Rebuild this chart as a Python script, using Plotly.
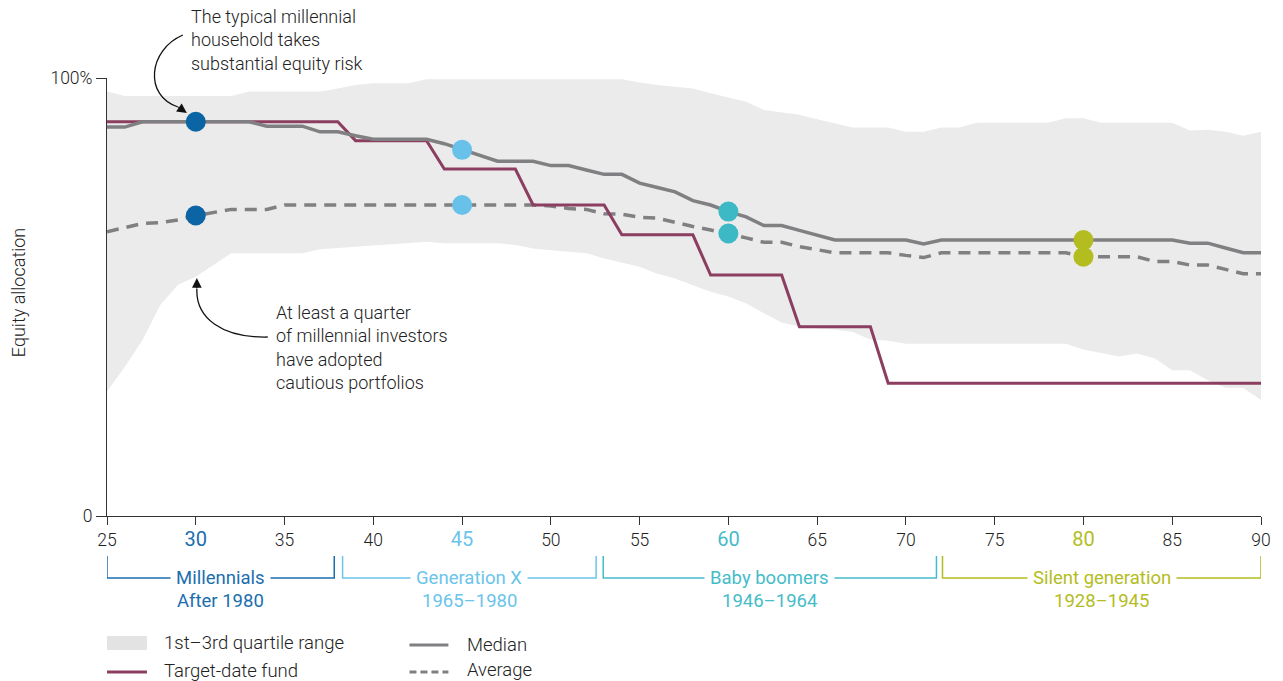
import plotly.graph_objects as go

# ---------------- data ----------------
ages = list(range(25, 91))

q3 = [96.9, 95.9, 95.9, 95.9, 95.9, 95.9, 95.9, 95.9, 96.9, 96.9, 96.9, 96.9, 96.9, 97.6, 98.4,
      98.8, 98.8, 98.8, 99.7,
      99.7, 99.7, 99.7, 99.7, 99.7, 99.7, 99.7, 99.7, 99.7, 99.7, 99.7,
      99.0, 98.4, 98.0, 97.6, 96.5, 95.5, 94.6, 92.7, 92.2, 91.6, 90.6, 89.7, 88.7, 88.7, 88.7,
      87.7, 87.7, 88.7, 88.7, 89.8, 89.8, 89.8, 89.8, 89.8, 90.8, 90.8, 89.8, 89.8, 89.8, 89.8,
      89.8, 88.0, 88.2, 87.7, 86.8, 87.7]

q1 = [28.4, 34.0, 40.2, 48.2, 52.8, 54.6, 57.3, 60.0, 60.0, 60.0, 60.0, 60.0, 60.9, 61.2, 61.5,
      61.8, 62.0, 62.4, 62.6, 62.3, 62.3, 62.3, 62.3, 61.9, 61.1, 60.7, 60.4, 60.0, 58.8, 57.8,
      56.9, 55.3, 54.2, 52.7, 51.2, 50.1, 48.5, 46.3, 44.2, 43.2, 42.8, 42.6, 42.0, 40.3, 40.0,
      39.3, 39.3, 39.3, 39.3, 39.3, 39.3, 39.3, 39.3, 39.3, 39.3,
      38.0, 37.2, 36.4, 37.1, 36.0, 33.3, 33.3, 31.0, 29.3, 29.2, 26.5]

median = [88.8, 88.8, 90, 90, 90, 90, 90, 90, 90, 89, 89, 89, 87.7, 87.7, 86.8,
          86, 86, 86, 86, 85, 83.6, 82.2, 81, 81, 81, 80, 80, 79, 78, 78,
          76, 75, 74, 72, 71, 69.5, 68.3, 66.3, 66.3, 65.2, 64.1, 63, 63, 63, 63,
          63, 62.1,
          63, 63, 63, 63, 63, 63, 63, 63, 63, 63, 63, 63, 63, 63,
          62.3, 62.3, 61.2, 60.1, 60.1]

average = [64.9, 65.8, 66.8, 67.0, 67.6, 68.6, 69.4, 70, 70, 70, 71,
           71, 71, 71, 71, 71, 71, 71, 71, 71, 71, 71, 71, 71, 71,
           70.8, 70.2, 70, 69, 68.9, 68.2, 68, 67, 66.1, 65.3, 64.5, 63.5, 62.5, 62.5, 61.5,
           60.8, 60.1, 60.1, 60.1, 60.1, 59.5, 59.0,
           60.1, 60.1, 60.1, 60.1, 60.1, 60.1, 60.1, 60.1,
           59.2, 59.2, 59.2, 59.2, 58.1, 58.1, 57.3, 57.3, 56.3, 55.3, 55.3]

tdf = ([90.0] * 14 + [85.7] * 5 + [79.2] * 5 + [71.0] * 5 + [64.2] * 5 +
       [55.0] * 5 + [43.2] * 5 + [30.3] * 22)

highlight_ages = [30, 45, 60, 80]
highlight_colors = ["#0B64A3", "#67C1E9", "#3DB8C5", "#B3BD1F"]
tick_colors = {30: "#1B6EAE", 45: "#6BC4EA", 60: "#45BCC8", 80: "#B3BD22"}

generations = ["Millennials", "Generation X", "Baby boomers", "Silent generation"]
gen_years = ["After 1980", "1965\u20131980", "1946\u20131964", "1928\u20131945"]
gen_start = [25, 38.27, 52.95, 72.06]
gen_end = [37.8, 52.55, 71.72, 90]
gen_colors = ["#1B6EAE", "#6BC4EA", "#45BCC8", "#B3BD22"]

xticks = list(range(25, 91, 5))
yticks = [0, 100]
yticktext = ["0", "100%"]

# ---------------- styles ----------------
FONT = "Roboto"
TXT = "#222222"
BAND = "#EBEBEB"
GREY = "#808083"
PURPLE = "#8B3E60"
LIGHT = 300

W, H = 1283, 681
ML, MR, MT, MB = 107, 20, 78, 165
PW, PH = W - ML - MR, H - MT - MB


def px(X):
    return (X - ML) / PW


def py(Y):
    return (H - MB - Y) / PH


fig = go.Figure()

# quartile band
fig.add_trace(go.Scatter(x=ages, y=q3, mode="lines", line=dict(width=0, color=BAND),
                         hoverinfo="skip", showlegend=False))
fig.add_trace(go.Scatter(x=ages, y=q1, mode="lines", line=dict(width=0, color=BAND),
                         fill="tonexty", fillcolor=BAND, hoverinfo="skip", showlegend=False))

# lines
fig.add_trace(go.Scatter(x=ages, y=average, mode="lines",
                         line=dict(color=GREY, width=3.5, dash="12px,8px"), showlegend=False))
fig.add_trace(go.Scatter(x=ages, y=tdf, mode="lines",
                         line=dict(color=PURPLE, width=3), showlegend=False))
fig.add_trace(go.Scatter(x=ages, y=median, mode="lines",
                         line=dict(color=GREY, width=3.5), showlegend=False))

# highlight dots
for a, c in zip(highlight_ages, highlight_colors):
    i = ages.index(a)
    fig.add_trace(go.Scatter(x=[a, a], y=[median[i], average[i]], mode="markers",
                             marker=dict(size=20, color=c, line=dict(width=0)),
                             showlegend=False))

ticktext = []
for t in xticks:
    if t in tick_colors:
        ticktext.append(f'<span style="color:{tick_colors[t]};font-size:20px;font-weight:400">{t}</span>')
    else:
        ticktext.append(str(t))

shapes = []
annotations = []

# generation brackets
yb_top, yb_line = py(556), py(578)
for name, yrs, s, e, c in zip(generations, gen_years, gen_start, gen_end, gen_colors):
    shapes.append(dict(type="path", xref="x", yref="paper",
                       path=f"M {s},{yb_top} L {s},{yb_line} L {e},{yb_line} L {e},{yb_top}",
                       line=dict(color=c, width=1.5)))
    mid = (s + e) / 2
    annotations.append(dict(x=mid, y=yb_line, xref="x", yref="paper", text=name,
                            showarrow=False, font=dict(family=FONT, size=18.5, color=c),
                            bgcolor="white", borderpad=5, xanchor="center", yanchor="middle"))
    annotations.append(dict(x=mid, y=py(601), xref="x", yref="paper", text=yrs,
                            showarrow=False, font=dict(family=FONT, size=18.5, color=c),
                            xanchor="center", yanchor="middle"))

# legend (manual)
shapes.append(dict(type="rect", xref="paper", yref="paper", x0=px(107), x1=px(147),
                   y0=py(636), y1=py(650), fillcolor="#E3E3E3", line=dict(width=0)))
shapes.append(dict(type="line", xref="paper", yref="paper", x0=px(107), x1=px(147),
                   y0=py(672), y1=py(672), line=dict(color=PURPLE, width=3)))
shapes.append(dict(type="line", xref="paper", yref="paper", x0=px(410), x1=px(449),
                   y0=py(645), y1=py(645), line=dict(color=GREY, width=3)))
shapes.append(dict(type="line", xref="paper", yref="paper", x0=px(410), x1=px(449),
                   y0=py(672), y1=py(672), line=dict(color=GREY, width=3, dash="7px,4px")))
for label, X, Y in [("1st\u20133rd quartile range", 162, 643), ("Target-date fund", 162, 671),
                    ("Median", 466, 645), ("Average", 466, 670)]:
    annotations.append(dict(x=px(X), y=py(Y), xref="paper", yref="paper", text=label,
                            showarrow=False, xanchor="left", yanchor="middle",
                            font=dict(family=FONT, size=18.5, color=TXT, weight=LIGHT)))

# y-axis title
annotations.append(dict(x=px(18), y=py(293), xref="paper", yref="paper", text="Equity allocation",
                        textangle=-90, showarrow=False, xanchor="center", yanchor="middle",
                        font=dict(family=FONT, size=18, color=TXT, weight=LIGHT)))

# callout texts
annotations.append(dict(x=px(189), y=py(40), xref="paper", yref="paper",
                        text="The typical millennial<br>household takes<br>substantial equity risk",
                        showarrow=False, xanchor="left", yanchor="middle", align="left",
                        font=dict(family=FONT, size=18, color=TXT, weight=LIGHT)))
annotations.append(dict(x=px(274), y=py(347), xref="paper", yref="paper",
                        text="At least a quarter<br>of millennial investors<br>have adopted<br>cautious portfolios",
                        showarrow=False, xanchor="left", yanchor="middle", align="left",
                        font=dict(family=FONT, size=18, color=TXT, weight=LIGHT)))

# curved arrows
shapes.append(dict(type="path", xref="paper", yref="paper",
                   path=(f"M {px(183)},{py(35)} C {px(148)},{py(50)} {px(144)},{py(96)} "
                         f"{px(178)},{py(107)}"),
                   line=dict(color="#111111", width=1.3)))
annotations.append(dict(x=px(187), y=py(113), xref="paper", yref="paper", text="",
                        showarrow=True, ax=-10, ay=-7, arrowhead=2, arrowsize=1.5,
                        arrowwidth=1.3, arrowcolor="#111111"))
shapes.append(dict(type="path", xref="paper", yref="paper",
                   path=(f"M {px(268)},{py(337)} C {px(222)},{py(338)} {px(196)},{py(318)} "
                         f"{px(197)},{py(289)}"),
                   line=dict(color="#111111", width=1.3)))
annotations.append(dict(x=px(197), y=py(278), xref="paper", yref="paper", text="",
                        showarrow=True, ax=0, ay=12, arrowhead=2, arrowsize=1.5,
                        arrowwidth=1.3, arrowcolor="#111111"))

fig.update_layout(
    width=W, height=H,
    margin=dict(l=ML, r=MR, t=MT, b=MB, pad=0),
    paper_bgcolor="white", plot_bgcolor="white",
    font=dict(family=FONT, size=16, color=TXT),
    shapes=shapes, annotations=annotations, showlegend=False,
    xaxis=dict(range=[25, 90], tickvals=xticks, ticktext=ticktext, showgrid=False,
               zeroline=False, showline=True, linecolor="#333333", linewidth=1,
               ticks="outside", ticklen=8, tickcolor="#333333",
               tickfont=dict(family=FONT, size=17.5, color=TXT, weight=LIGHT)),
    yaxis=dict(range=[0, 100], tickvals=yticks, ticktext=yticktext, showgrid=False,
               zeroline=False, showline=True, linecolor="#333333", linewidth=1,
               ticks="outside", ticklen=10, tickcolor="#333333",
               tickfont=dict(family=FONT, size=17.5, color=TXT, weight=LIGHT)),
)

fig.write_html("out.html", config={"displayModeBar": False},
               post_script="document.body.style.margin='0';document.body.style.overflow='hidden';")
